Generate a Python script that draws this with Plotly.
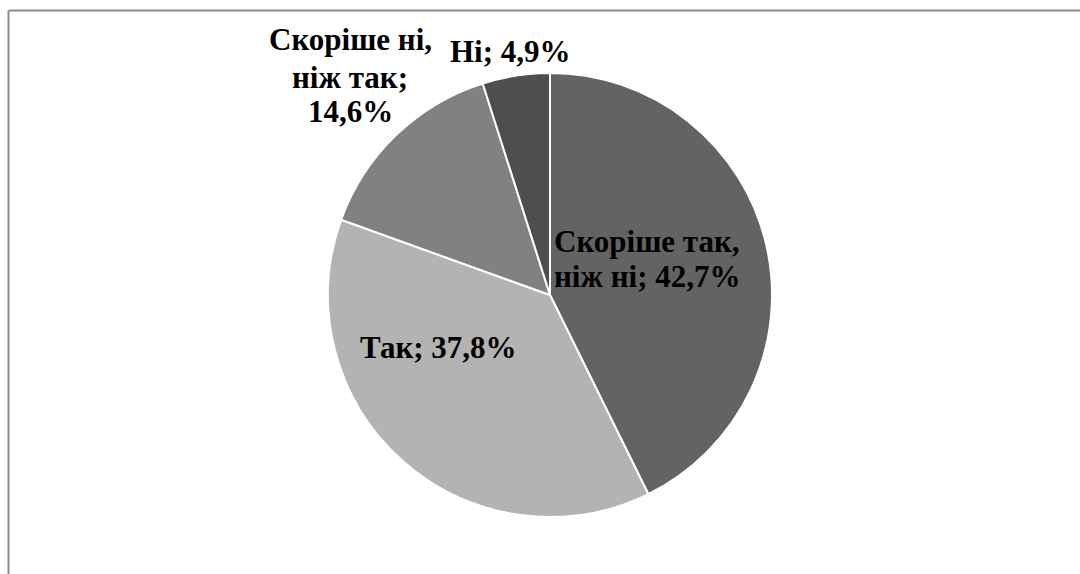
import plotly.graph_objects as go

# Survey answers, clockwise from 12 o'clock
categories = ["Скоріше так, ніж ні", "Так", "Скоріше ні, ніж так", "Ні"]
values = [42.7, 37.8, 14.6, 4.9]
colors = ["#636363", "#b3b3b3", "#818181", "#4e4e4e"]

W, H = 1080, 574

# Pie placement in pixels (center and radius)
cx, cy, r = 550, 295, 222


def px(x):
    return x / W


def py(y):
    return 1 - y / H


fig = go.Figure(
    go.Pie(
        labels=categories,
        values=values,
        sort=False,
        direction="clockwise",
        rotation=0,
        marker=dict(colors=colors, line=dict(color="#ffffff", width=2)),
        textinfo="none",
        hoverinfo="label+percent",
        showlegend=False,
        domain=dict(x=[px(cx - r), px(cx + r)], y=[py(cy + r), py(cy - r)]),
    )
)


def fmt(v):
    return f"{v:.1f}".replace(".", ",") + "%"


# Label lines built from the data; layout gives anchor x, line centres y, alignment
line_splits = [
    ["Скоріше так,", "ніж ні; " + fmt(values[0])],
    [f"{categories[1]}; {fmt(values[1])}"],
    ["Скоріше ні,", "ніж так;", fmt(values[2])],
    [f"{categories[3]}; {fmt(values[3])}"],
]
label_layout = [
    (552, [241, 277], "left"),
    (438, [347], "center"),
    (350, [39, 77, 112], "center"),
    (510, [51], "center"),
]

for lines, (x, ys, xa) in zip(line_splits, label_layout):
    for text, y in zip(lines, ys):
        fig.add_annotation(
            x=px(x), y=py(y), xref="paper", yref="paper",
            text=f"<b>{text}</b>", showarrow=False,
            xanchor=xa, yanchor="middle",
            font=dict(family="Liberation Serif", size=31, color="#000000"),
        )

# Chart-area frame (top and left edges visible)
frame = dict(color="#8c8c8c", width=2)
fig.add_shape(type="line", xref="paper", yref="paper",
              x0=px(8.5), x1=1.0, y0=py(10.5), y1=py(10.5), line=frame)
fig.add_shape(type="line", xref="paper", yref="paper",
              x0=px(8.5), x1=px(8.5), y0=py(10.5), y1=0.0, line=frame)

fig.update_layout(
    width=W, height=H,
    margin=dict(l=0, r=0, t=0, b=0),
    paper_bgcolor="#ffffff",
    plot_bgcolor="#ffffff",
)

fig.write_html("out.html")
